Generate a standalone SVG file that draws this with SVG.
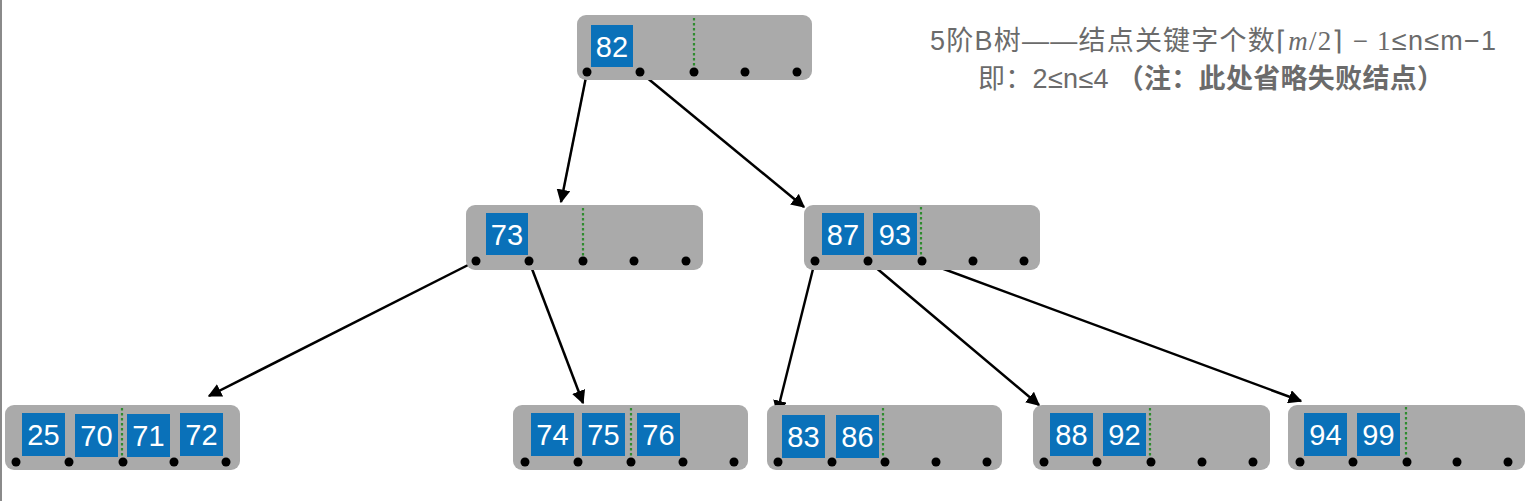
<svg xmlns="http://www.w3.org/2000/svg" width="1538" height="501" viewBox="0 0 1538 501">
<defs>
<marker id="ah" viewBox="0 0 10 10" refX="9" refY="5" markerWidth="5.5" markerHeight="5.5" markerUnits="strokeWidth" orient="auto">
<path d="M0,0 L10,5 L0,10 z" fill="#000"/>
</marker>
<style>
.node{fill:#aaaaaa;}
.key{fill:#0a71b9;}
.kt{font-family:"Liberation Sans",Arial,sans-serif;font-size:29px;fill:#fff;text-anchor:middle;}
.dot{fill:#000;}
.sep{stroke:#2e8b2e;stroke-width:2.2;stroke-dasharray:2.5,2.5;}
.edge{stroke:#000;stroke-width:2.5;fill:none;marker-end:url(#ah);}
.note{font-family:"Liberation Sans","Noto Sans CJK SC",sans-serif;font-size:27px;fill:#6b6b6b;}
</style>
</defs>
<rect width="1538" height="501" fill="#fff"/>
<line x1="1" y1="0" x2="1" y2="501" stroke="#8a8a8a" stroke-width="2"/>

<g id="connectors">
<line class="edge" x1="587" y1="72" x2="561" y2="202"/>
<line class="edge" x1="640" y1="72" x2="804" y2="207"/>
<line class="edge" x1="476" y1="261" x2="209" y2="396"/>
<line class="edge" x1="529" y1="261" x2="583" y2="403"/>
<line class="edge" x1="815" y1="261" x2="777" y2="413"/>
<line class="edge" x1="868" y1="261" x2="1039" y2="405"/>
<line class="edge" x1="922" y1="261" x2="1301" y2="401"/>
</g>

<g id="node-82">
<rect class="node" x="577" y="15" width="235" height="65" rx="9"/>
<line class="sep" x1="694" y1="18" x2="694" y2="68"/>
<rect class="key" x="591" y="25" width="42" height="42"/>
<text class="kt" x="612" y="56.5">82</text>
<circle class="dot" cx="587" cy="72" r="4.5"/><circle class="dot" cx="640" cy="72" r="4.5"/><circle class="dot" cx="694" cy="72" r="4.5"/><circle class="dot" cx="745" cy="72" r="4.5"/><circle class="dot" cx="797" cy="72" r="4.5"/>
</g>

<g id="node-73">
<rect class="node" x="466" y="205" width="237" height="65" rx="9"/>
<line class="sep" x1="583" y1="208" x2="583" y2="257"/>
<rect class="key" x="486" y="213" width="42" height="42"/>
<text class="kt" x="507" y="244.5">73</text>
<circle class="dot" cx="476" cy="261" r="4.5"/><circle class="dot" cx="529" cy="261" r="4.5"/><circle class="dot" cx="583" cy="261" r="4.5"/><circle class="dot" cx="634" cy="261" r="4.5"/><circle class="dot" cx="686" cy="261" r="4.5"/>
</g>

<g id="node-87-93">
<rect class="node" x="804" y="205" width="236" height="65" rx="9"/>
<line class="sep" x1="921" y1="207" x2="921" y2="257"/>
<rect class="key" x="822" y="213" width="42" height="42"/>
<text class="kt" x="843" y="244.5">87</text>
<rect class="key" x="873" y="213" width="44" height="42"/>
<text class="kt" x="895" y="244.5">93</text>
<circle class="dot" cx="815" cy="261" r="4.5"/><circle class="dot" cx="868" cy="261" r="4.5"/><circle class="dot" cx="922" cy="261" r="4.5"/><circle class="dot" cx="973" cy="261" r="4.5"/><circle class="dot" cx="1024" cy="261" r="4.5"/>
</g>

<g id="node-25-70-71-72">
<rect class="node" x="5" y="405" width="235" height="65" rx="9"/>
<line class="sep" x1="122" y1="408" x2="122" y2="458"/>
<rect class="key" x="22" y="413" width="43" height="43"/>
<text class="kt" x="43.5" y="445">25</text>
<rect class="key" x="75" y="414" width="43" height="43"/>
<text class="kt" x="96.5" y="446">70</text>
<rect class="key" x="127" y="414" width="43" height="43"/>
<text class="kt" x="148.5" y="446">71</text>
<rect class="key" x="180" y="413" width="43" height="43"/>
<text class="kt" x="201.5" y="445">72</text>
<circle class="dot" cx="16" cy="462" r="4.5"/><circle class="dot" cx="69" cy="462" r="4.5"/><circle class="dot" cx="123" cy="462" r="4.5"/><circle class="dot" cx="174" cy="462" r="4.5"/><circle class="dot" cx="226" cy="462" r="4.5"/>
</g>

<g id="node-74-75-76">
<rect class="node" x="513" y="405" width="235" height="65" rx="9"/>
<line class="sep" x1="631" y1="408" x2="631" y2="458"/>
<rect class="key" x="531" y="413" width="43" height="43"/>
<text class="kt" x="552.5" y="445">74</text>
<rect class="key" x="582" y="413" width="43" height="43"/>
<text class="kt" x="603.5" y="445">75</text>
<rect class="key" x="637" y="413" width="43" height="43"/>
<text class="kt" x="658.5" y="445">76</text>
<circle class="dot" cx="525" cy="462" r="4.5"/><circle class="dot" cx="578" cy="462" r="4.5"/><circle class="dot" cx="631" cy="462" r="4.5"/><circle class="dot" cx="683" cy="462" r="4.5"/><circle class="dot" cx="734" cy="462" r="4.5"/>
</g>

<g id="node-83-86">
<rect class="node" x="767" y="405" width="235" height="65" rx="9"/>
<line class="sep" x1="883" y1="408" x2="883" y2="458"/>
<rect class="key" x="782" y="415" width="43" height="43"/>
<text class="kt" x="803.5" y="447">83</text>
<rect class="key" x="836" y="415" width="43" height="43"/>
<text class="kt" x="857.5" y="447">86</text>
<circle class="dot" cx="778" cy="462" r="4.5"/><circle class="dot" cx="832" cy="462" r="4.5"/><circle class="dot" cx="885" cy="462" r="4.5"/><circle class="dot" cx="936" cy="462" r="4.5"/><circle class="dot" cx="987" cy="462" r="4.5"/>
</g>

<g id="node-88-92">
<rect class="node" x="1033" y="405" width="237" height="65" rx="9"/>
<line class="sep" x1="1150" y1="408" x2="1150" y2="458"/>
<rect class="key" x="1050" y="413" width="43" height="43"/>
<text class="kt" x="1071.5" y="445">88</text>
<rect class="key" x="1103" y="413" width="43" height="43"/>
<text class="kt" x="1124.5" y="445">92</text>
<circle class="dot" cx="1044" cy="462" r="4.5"/><circle class="dot" cx="1097" cy="462" r="4.5"/><circle class="dot" cx="1151" cy="462" r="4.5"/><circle class="dot" cx="1202" cy="462" r="4.5"/><circle class="dot" cx="1253" cy="462" r="4.5"/>
</g>

<g id="node-94-99">
<rect class="node" x="1288" y="405" width="237" height="65" rx="9"/>
<line class="sep" x1="1406" y1="407" x2="1406" y2="457"/>
<rect class="key" x="1304" y="413" width="43" height="43"/>
<text class="kt" x="1325.5" y="445">94</text>
<rect class="key" x="1357" y="413" width="43" height="43"/>
<text class="kt" x="1378.5" y="445">99</text>
<circle class="dot" cx="1300" cy="462" r="4.5"/><circle class="dot" cx="1353" cy="462" r="4.5"/><circle class="dot" cx="1407" cy="462" r="4.5"/><circle class="dot" cx="1457" cy="462" r="4.5"/><circle class="dot" cx="1508" cy="462" r="4.5"/>
</g>

<g id="note">
<text class="note" x="930" y="50" textLength="566" lengthAdjust="spacing">5阶B树——结点关键字个数<tspan font-family="'Liberation Serif',serif">⌈<tspan font-style="italic">m</tspan>/2⌉ − 1</tspan>≤n≤m−1</text>
<text class="note" x="978" y="88" textLength="466" lengthAdjust="spacing">即：2≤n≤4 <tspan font-weight="bold">（注：此处省略失败结点）</tspan></text>
</g>
</svg>
